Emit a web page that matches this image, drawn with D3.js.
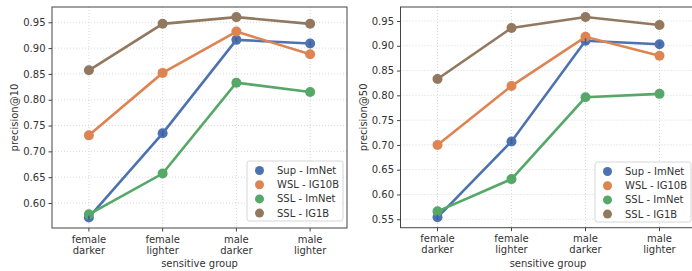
<!DOCTYPE html>
<html>
<head>
<meta charset="utf-8">
<script src="https://cdn.jsdelivr.net/npm/d3@7"></script>
<style>
  body { margin: 0; background: #fff; }
  text { font-family: "DejaVu Sans", sans-serif; }
</style>
</head>
<body>
<svg id="chart" width="692" height="271"></svg>
<script>
const groups = ['female darker', 'female lighter', 'male darker', 'male lighter'];
const models = ['Sup - ImNet', 'WSL - IG10B', 'SSL - ImNet', 'SSL - IG1B'];
const colors = ['#4c72b0', '#dd8452', '#55a868', '#937860'];

// precision@10, one row per model
const prec10 = [
  [0.572, 0.735, 0.916, 0.909],
  [0.731, 0.852, 0.932, 0.888],
  [0.578, 0.657, 0.833, 0.815],
  [0.857, 0.947, 0.960, 0.947]
];
// precision@50
const prec50 = [
  [0.554, 0.707, 0.910, 0.903],
  [0.700, 0.819, 0.918, 0.880],
  [0.566, 0.631, 0.796, 0.803],
  [0.833, 0.936, 0.958, 0.942]
];
// small confidence interval visible on Sup - ImNet points
const supCi10 = [0.004, 0.005, 0.005, 0.004];
const supCi50 = [0.005, 0.005, 0.005, 0.004];

const ticks10 = [0.60, 0.65, 0.70, 0.75, 0.80, 0.85, 0.90, 0.95];
const ticks50 = [0.55, 0.60, 0.65, 0.70, 0.75, 0.80, 0.85, 0.90, 0.95];

const svg = d3.select('#chart');

function drawPanel(opts) {
  const { left, width, top, bottom, domain, ticks, data, ci, yLabel, legendX, legendY } = opts;

  const x = d3.scaleBand().domain(groups).range([left, left + width]);
  const y = d3.scaleLinear().domain(domain).range([bottom, top]);
  const cx = g => x(g) + x.bandwidth() / 2;

  const g = svg.append('g');

  // grid
  g.selectAll('.gy').data(ticks).enter().append('line')
    .attr('x1', left).attr('x2', left + width)
    .attr('y1', d => y(d)).attr('y2', d => y(d))
    .attr('stroke', '#cfcfcf').attr('stroke-width', 0.8)
    .attr('stroke-dasharray', '1,2');
  g.selectAll('.gx').data(groups).enter().append('line')
    .attr('x1', cx).attr('x2', cx)
    .attr('y1', top).attr('y2', bottom)
    .attr('stroke', '#cfcfcf').attr('stroke-width', 0.8)
    .attr('stroke-dasharray', '1,2');

  // lines and points
  const line = d3.line().x((d, i) => cx(groups[i])).y(d => y(d));
  data.forEach((row, k) => {
    g.append('path')
      .attr('d', line(row))
      .attr('fill', 'none')
      .attr('stroke', colors[k])
      .attr('stroke-width', 2.6);
    g.selectAll('.pt' + k).data(row).enter().append('circle')
      .attr('cx', (d, i) => cx(groups[i]))
      .attr('cy', d => y(d))
      .attr('r', 5)
      .attr('fill', colors[k]);
  });

  // error bars for Sup - ImNet
  g.selectAll('.ci').data(data[0]).enter().append('line')
    .attr('x1', (d, i) => cx(groups[i])).attr('x2', (d, i) => cx(groups[i]))
    .attr('y1', (d, i) => y(d - ci[i])).attr('y2', (d, i) => y(d + ci[i]))
    .attr('stroke', '#3d5f96').attr('stroke-width', 1.6);

  // frame
  g.append('rect')
    .attr('x', left).attr('y', top)
    .attr('width', width).attr('height', bottom - top)
    .attr('fill', 'none').attr('stroke', '#444').attr('stroke-width', 1);

  // y axis
  const yAxis = d3.axisLeft(y).tickValues(ticks).tickFormat(d3.format('.2f')).tickSize(3.5).tickPadding(3);
  const ya = g.append('g').attr('transform', `translate(${left},0)`).call(yAxis);
  ya.select('.domain').remove();
  ya.selectAll('line').attr('stroke', '#444');
  ya.selectAll('text').attr('font-size', 10).attr('fill', '#333')
    .style('font-family', '"DejaVu Sans", sans-serif');

  // x axis with two-line labels
  const xAxis = d3.axisBottom(x).tickSize(3.5).tickFormat('');
  const xa = g.append('g').attr('transform', `translate(0,${bottom})`).call(xAxis);
  xa.select('.domain').remove();
  xa.selectAll('line').attr('stroke', '#444');
  groups.forEach(name => {
    const t = g.append('text')
      .attr('x', cx(name)).attr('y', bottom + 14.5)
      .attr('text-anchor', 'middle')
      .attr('font-size', 10).attr('fill', '#333');
    name.split(' ').forEach((w, i) => {
      t.append('tspan').attr('x', cx(name)).attr('dy', i === 0 ? 0 : 11).text(w);
    });
  });

  g.append('text')
    .attr('x', left + 147.5).attr('y', 266.5)
    .attr('text-anchor', 'middle')
    .attr('font-size', 10).attr('fill', '#333')
    .text('sensitive group');

  g.append('text')
    .attr('transform', `translate(${left - 34},${(top + bottom) / 2}) rotate(-90)`)
    .attr('text-anchor', 'middle')
    .attr('font-size', 10).attr('fill', '#333')
    .text(yLabel);

  // legend
  const lg = g.append('g').attr('transform', `translate(${legendX},${legendY})`);
  lg.append('rect')
    .attr('width', 96).attr('height', 60).attr('rx', 2.5)
    .attr('fill', '#fff').attr('fill-opacity', 0.85)
    .attr('stroke', '#d6d6d6').attr('stroke-width', 1);
  models.forEach((m, k) => {
    lg.append('circle')
      .attr('cx', 12.5).attr('cy', 9.5 + k * 14.2)
      .attr('r', 4.5).attr('fill', colors[k]);
    lg.append('text')
      .attr('x', 30).attr('y', 13 + k * 14.2)
      .attr('font-size', 10).attr('fill', '#333')
      .text(m);
  });
}

drawPanel({
  left: 52, width: 295, top: 7, bottom: 228,
  domain: [0.5516, 0.9796], ticks: ticks10, data: prec10, ci: supCi10,
  yLabel: 'precision@10', legendX: 247, legendY: 161
});

drawPanel({
  left: 400.5, width: 296, top: 7, bottom: 227.7,
  domain: [0.533, 0.9782], ticks: ticks50, data: prec50, ci: supCi50,
  yLabel: 'precision@50', legendX: 595, legendY: 162
});
</script>
</body>
</html>
